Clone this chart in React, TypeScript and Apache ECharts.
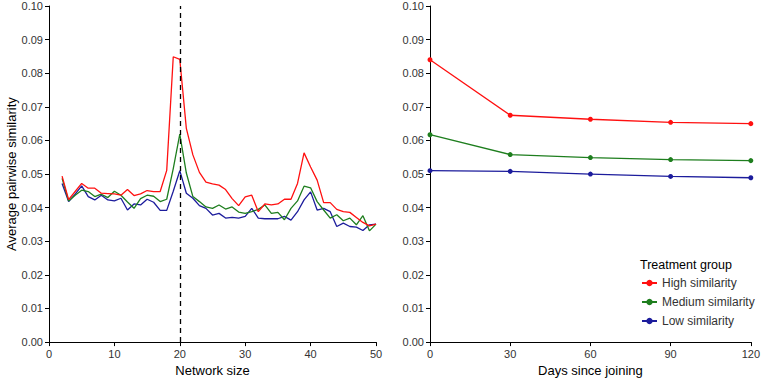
import React, { useEffect, useRef } from "react";
import * as echarts from "echarts";

const networkSize = [2, 3, 4, 5, 6, 7, 8, 9, 10, 11, 12, 13, 14, 15, 16, 17, 18, 19, 20, 21, 22, 23, 24, 25, 26, 27, 28, 29, 30, 31, 32, 33, 34, 35, 36, 37, 38, 39, 40, 41, 42, 43, 44, 45, 46, 47, 48, 49, 50];

const highBySize = [0.0494, 0.0424, 0.0448, 0.0472, 0.0458, 0.0458, 0.0443, 0.0442, 0.0441, 0.0437, 0.0454, 0.0436, 0.0441, 0.0451, 0.0448, 0.0448, 0.0511, 0.0849, 0.0841, 0.0636, 0.0557, 0.0505, 0.0476, 0.0471, 0.0467, 0.0454, 0.0427, 0.0406, 0.0432, 0.0437, 0.0388, 0.0411, 0.0408, 0.0411, 0.0425, 0.0425, 0.0472, 0.0563, 0.0521, 0.0482, 0.0415, 0.0415, 0.0395, 0.0388, 0.0386, 0.0371, 0.0356, 0.0346, 0.0351];

const mediumBySize = [0.0487, 0.0420, 0.0437, 0.0452, 0.0448, 0.0433, 0.0440, 0.0430, 0.0449, 0.0437, 0.0417, 0.0398, 0.0427, 0.0437, 0.0434, 0.0418, 0.0425, 0.0516, 0.0619, 0.0503, 0.0433, 0.0418, 0.0402, 0.0398, 0.0408, 0.0396, 0.0402, 0.0387, 0.0383, 0.0388, 0.0395, 0.0408, 0.0383, 0.0386, 0.0364, 0.0398, 0.0420, 0.0464, 0.0459, 0.0418, 0.0393, 0.0369, 0.0379, 0.0361, 0.0369, 0.0349, 0.0376, 0.0331, 0.0351];

const lowBySize = [0.0472, 0.0418, 0.0440, 0.0465, 0.0433, 0.0423, 0.0437, 0.0423, 0.0420, 0.0428, 0.0393, 0.0411, 0.0408, 0.0425, 0.0416, 0.0392, 0.0392, 0.0449, 0.0510, 0.0443, 0.0428, 0.0406, 0.0398, 0.0378, 0.0383, 0.0369, 0.0371, 0.0369, 0.0374, 0.0398, 0.0369, 0.0367, 0.0367, 0.0367, 0.0374, 0.0363, 0.0388, 0.0423, 0.0447, 0.0393, 0.0398, 0.0388, 0.0344, 0.0354, 0.0344, 0.0342, 0.0332, 0.0349, 0.0351];

const days = [0, 30, 60, 90, 120];
const highByDay = [0.0840, 0.0675, 0.0663, 0.0654, 0.0650];
const mediumByDay = [0.0617, 0.0558, 0.0549, 0.0543, 0.0540];
const lowByDay = [0.0510, 0.0508, 0.0500, 0.0493, 0.0489];

const groupNames = ["High similarity", "Medium similarity", "Low similarity"];

const RED = "#ff1010";
const GREEN = "#1e7e1e";
const BLUE = "#1c1c9c";
const FONT = "Liberation Sans, Arial, sans-serif";
const TEXT = "#333333";

function pairs(xs: number[], ys: number[]) {
  return xs.map((x, i) => [x, ys[i]]);
}

export default function App() {
  const ref = useRef<HTMLDivElement>(null);
  useEffect(() => {
    if (!ref.current) return;
    const chart = echarts.init(ref.current, null, { renderer: "svg" });
    const axisCommon = {
      axisLine: { show: true, lineStyle: { color: "#000", width: 1 } },
      axisTick: { show: true, length: 4, lineStyle: { color: "#000" } },
      splitLine: { show: false },
      axisLabel: { color: TEXT, fontSize: 11, fontFamily: FONT },
      nameTextStyle: { color: "#000", fontSize: 13, fontFamily: FONT },
    };
    const yAxisBase = {
      ...axisCommon,
      type: "value",
      min: 0,
      max: 0.1,
      interval: 0.01,
      axisLabel: { ...axisCommon.axisLabel, margin: 6, formatter: (v: number) => v.toFixed(2) },
    };
    chart.setOption({
      animation: false,
      textStyle: { fontFamily: FONT },
      grid: [
        { left: 49, top: 6, width: 327, height: 339 },
        { left: 430, top: 6, width: 321, height: 339 },
      ],
      xAxis: [
        {
          ...axisCommon,
          type: "value",
          gridIndex: 0,
          min: 0,
          max: 50,
          interval: 10,
          name: "Network size",
          nameLocation: "middle",
          nameGap: 19,
          axisLabel: { ...axisCommon.axisLabel, margin: 6 },
        },
        {
          ...axisCommon,
          type: "value",
          gridIndex: 1,
          min: 0,
          max: 120,
          interval: 30,
          name: "Days since joining",
          nameLocation: "middle",
          nameGap: 19,
          axisLabel: { ...axisCommon.axisLabel, margin: 6 },
        },
      ],
      yAxis: [
        {
          ...yAxisBase,
          gridIndex: 0,
          name: "Average pairwise similarity",
          nameLocation: "middle",
          nameGap: 28,
        },
        { ...yAxisBase, gridIndex: 1 },
      ],
      title: {
        text: "Treatment group",
        left: 640,
        top: 258,
        textStyle: { fontSize: 12.5, fontWeight: "normal", color: "#000", fontFamily: FONT },
        padding: 0,
      },
      legend: {
        data: groupNames,
        orient: "vertical",
        left: 641,
        top: 277,
        itemWidth: 15,
        itemHeight: 8,
        itemGap: 7,
        padding: 0,
        textStyle: { fontSize: 12, color: TEXT, fontFamily: FONT },
      },
      series: [
        {
          type: "line",
          name: "High similarity",
          xAxisIndex: 0,
          yAxisIndex: 0,
          data: pairs(networkSize, highBySize),
          symbol: "none",
          lineStyle: { color: RED, width: 1.3 },
          itemStyle: { color: RED },
          z: 3,
          markLine: {
            silent: true,
            symbol: ["none", "none"],
            label: { show: false },
            lineStyle: { color: "#000", type: [5, 4], width: 1.3 },
            data: [{ xAxis: 20 }],
          },
        },
        {
          type: "line",
          name: "Medium similarity",
          xAxisIndex: 0,
          yAxisIndex: 0,
          data: pairs(networkSize, mediumBySize),
          symbol: "none",
          lineStyle: { color: GREEN, width: 1.3 },
          itemStyle: { color: GREEN },
          z: 2,
        },
        {
          type: "line",
          name: "Low similarity",
          xAxisIndex: 0,
          yAxisIndex: 0,
          data: pairs(networkSize, lowBySize),
          symbol: "none",
          lineStyle: { color: BLUE, width: 1.3 },
          itemStyle: { color: BLUE },
          z: 1,
        },
        {
          type: "line",
          name: "High similarity",
          xAxisIndex: 1,
          yAxisIndex: 1,
          data: pairs(days, highByDay),
          symbol: "circle",
          symbolSize: 5,
          lineStyle: { color: RED, width: 1.3 },
          itemStyle: { color: RED },
        },
        {
          type: "line",
          name: "Medium similarity",
          xAxisIndex: 1,
          yAxisIndex: 1,
          data: pairs(days, mediumByDay),
          symbol: "circle",
          symbolSize: 5,
          lineStyle: { color: GREEN, width: 1.3 },
          itemStyle: { color: GREEN },
        },
        {
          type: "line",
          name: "Low similarity",
          xAxisIndex: 1,
          yAxisIndex: 1,
          data: pairs(days, lowByDay),
          symbol: "circle",
          symbolSize: 5,
          lineStyle: { color: BLUE, width: 1.3 },
          itemStyle: { color: BLUE },
        },
      ],
    });
    return () => chart.dispose();
  }, []);
  return <div ref={ref} style={{ width: 763, height: 382, position: "absolute", left: 0, top: 0 }} />;
}
